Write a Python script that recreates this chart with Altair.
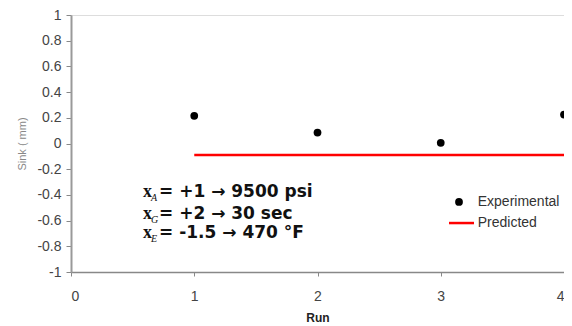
import altair as alt
import pandas as pd

runs = [1, 2, 3, 4]
experimental = [0.215, 0.085, 0.005, 0.225]
predicted = [-0.09, -0.09, -0.09, -0.09]

y_ticks = [-1, -0.8, -0.6, -0.4, -0.2, 0, 0.2, 0.4, 0.6, 0.8, 1]
x_ticks = [0, 1, 2, 3, 4]

series_names = ["Experimental", "Predicted"]

note_subs = ["A", "G", "E"]
note_texts = ["= +1 \u2192 9500 psi", "= +2 \u2192 30 sec", "= -1.5 \u2192 470 \u00b0F"]
note_y = [-0.375, -0.55, -0.70]
note_x = 0.584

# legend placement (data coordinates)
leg_sym_x = 3.148
leg_line_x = [3.067, 3.27]
leg_text_x = 3.30
leg_y = [-0.455, -0.619]

exp_df = pd.DataFrame({"run": runs, "sink": experimental})
pred_df = pd.DataFrame({"run": runs, "sink": predicted})
note_df = pd.DataFrame({"x": [note_x] * 3, "y": note_y, "sub": note_subs, "text": note_texts, "v": ["x"] * 3})
leg_text_df = pd.DataFrame({"x": [leg_text_x] * 2, "y": leg_y, "label": series_names})
leg_dot_df = pd.DataFrame({"x": [leg_sym_x], "y": [leg_y[0]]})
leg_line_df = pd.DataFrame({"x": leg_line_x, "y": [leg_y[1]] * 2})

xscale = alt.Scale(domain=[0, 4], nice=False, zero=False)
yscale = alt.Scale(domain=[-1, 1], nice=False, zero=False)

xaxis = alt.Axis(values=x_ticks, format="d", grid=False, title="Run", titleFontSize=12,
                 titleFontWeight="bold", titleColor="#222", titlePadding=9,
                 labelFontSize=14, labelColor="#444", labelPadding=13, tickSize=4,
                 domainColor="#888", tickColor="#888", domainWidth=1.5, labelFont="Liberation Sans",
                 titleFont="Liberation Sans", labelOverlap=False)
yaxis = alt.Axis(values=y_ticks, grid=False, title="Sink ( mm)", titleFontSize=11,
                 titleFontWeight="normal", titleColor="#888", titlePadding=9,
                 labelFontSize=14, labelColor="#444", labelPadding=5, tickSize=5,
                 labelExpr="replace(format(datum.value, '.1~f'), '\u2212', '-')",
                 domainColor="#999", tickColor="#888", domainWidth=2, labelFont="Liberation Sans",
                 titleFont="Liberation Sans", labelOverlap=False)


def X(field):
    return alt.X(field, scale=xscale, axis=xaxis)


def Y(field):
    return alt.Y(field, scale=yscale, axis=yaxis)


line = alt.Chart(pred_df).mark_line(strokeWidth=2.5, color="red").encode(
    x=X("run:Q"), y=Y("sink:Q"))

points = alt.Chart(exp_df).mark_point(filled=True, size=60, opacity=1, color="black").encode(
    x=X("run:Q"), y=Y("sink:Q"))

var_x = alt.Chart(note_df).mark_text(align="left", baseline="middle", font="Liberation Serif",
                                     fontWeight="bold", fontSize=18, color="#111").encode(
    x=X("x:Q"), y=Y("y:Q"), text="v:N")
var_sub = alt.Chart(note_df).mark_text(align="left", baseline="middle", font="Liberation Serif",
                                       fontStyle="italic", fontSize=10, color="#111", dx=8, dy=6).encode(
    x=X("x:Q"), y=Y("y:Q"), text="sub:N")
var_txt = alt.Chart(note_df).mark_text(align="left", baseline="middle", font="DejaVu Sans",
                                       fontWeight="bold", fontSize=17, color="#111", dx=16).encode(
    x=X("x:Q"), y=Y("y:Q"), text="text:N")

leg_dot = alt.Chart(leg_dot_df).mark_point(filled=True, size=60, opacity=1, color="black").encode(
    x=X("x:Q"), y=Y("y:Q"))
leg_line = alt.Chart(leg_line_df).mark_line(strokeWidth=2.5, color="red").encode(
    x=X("x:Q"), y=Y("y:Q"))
leg_text = alt.Chart(leg_text_df).mark_text(align="left", baseline="middle", font="Liberation Sans",
                                            fontSize=14, color="#333").encode(
    x=X("x:Q"), y=Y("y:Q"), text="label:N")

chart = alt.layer(line, points, var_x, var_sub, var_txt, leg_dot, leg_line, leg_text).properties(
    width=493, height=257,
    autosize=alt.AutoSizeParams(type="none"),
    padding={"left": 63, "top": 7, "right": 0, "bottom": 54},
).configure_view(stroke=None).configure_axis(labelOverlap=False).configure(background="white")

chart.save("out.html", embed_options={"renderer": "svg", "actions": False})
